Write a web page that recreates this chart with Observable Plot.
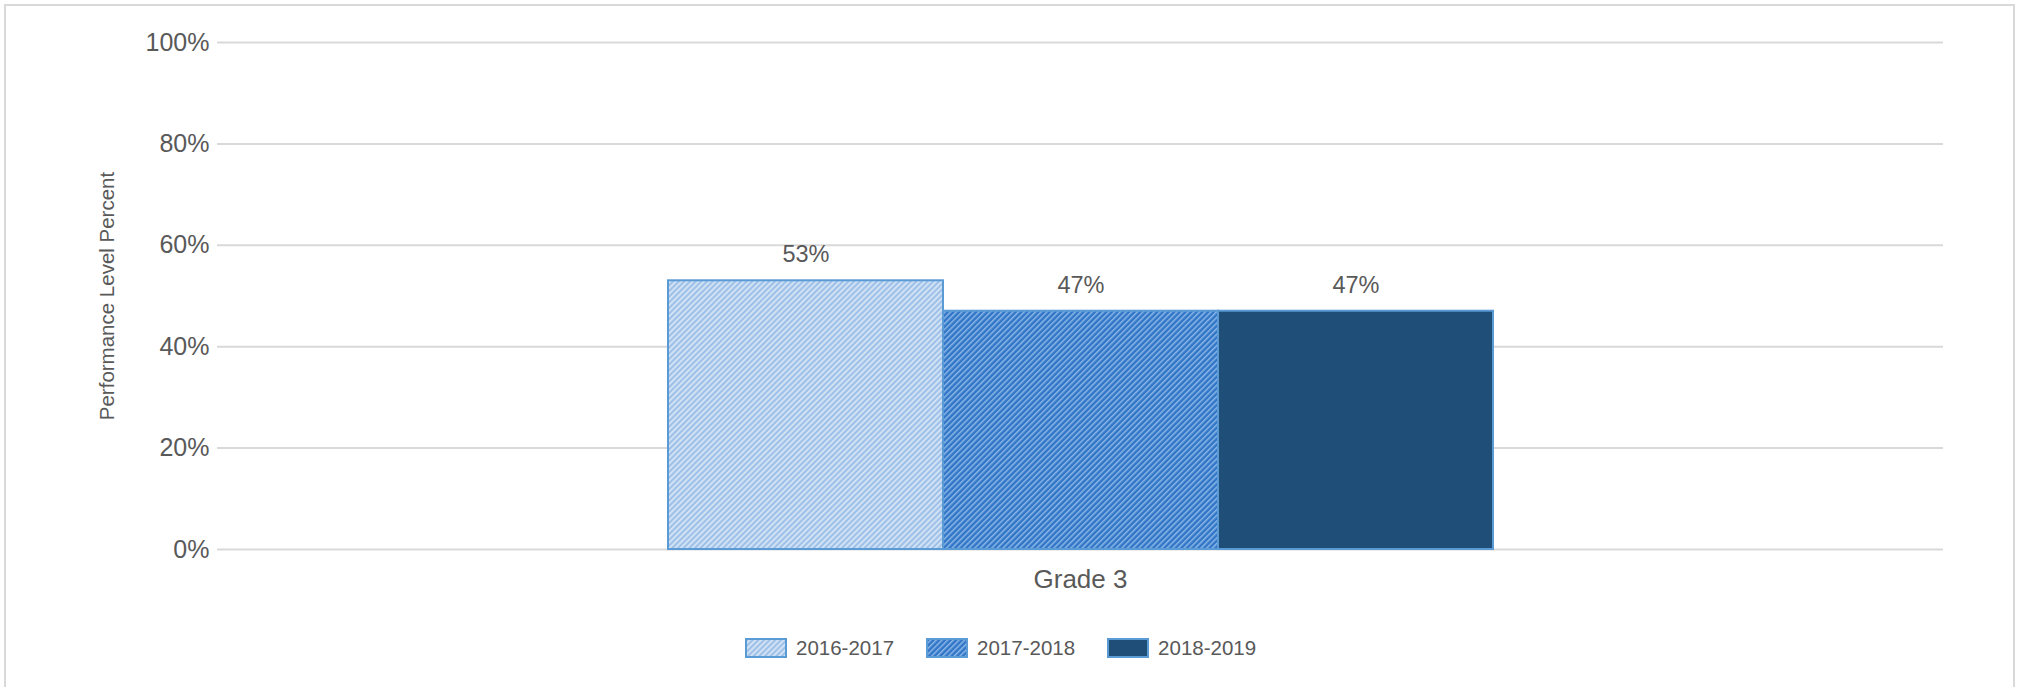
<!DOCTYPE html>
<html>
<head>
<meta charset="utf-8">
<script src="https://cdn.jsdelivr.net/npm/d3@7"></script>
<script src="https://cdn.jsdelivr.net/npm/@observablehq/plot@0.6"></script>
<style>
  html, body { margin: 0; padding: 0; background: #fff; }
  body { width: 2017px; height: 687px; overflow: hidden; position: relative; font-family: "Liberation Sans", Arial, sans-serif; }
  #frame { position: absolute; left: 4px; top: 4px; width: 2007px; height: 720px; border: 2px solid #d9d9d9; border-bottom: none; }
  #chart { position: absolute; left: 0; top: 0; }
  #legend { position: absolute; left: 745px; top: 638px; display: flex; align-items: center; font-size: 20.5px; color: #595959; line-height: 20px; }
  #legend .item { display: flex; align-items: center; margin-right: 32px; }
  #legend svg { display: block; margin-right: 9px; }
  #defs { position: absolute; width: 0; height: 0; }
</style>
</head>
<body>
<svg id="defs" width="0" height="0">
  <defs>
    <pattern id="hatch-light" patternUnits="userSpaceOnUse" width="4" height="4" patternTransform="rotate(45)">
      <rect width="4" height="4" fill="#9fc1e8"></rect>
      <rect x="0" y="0" width="1.7" height="4" fill="#d8e7f7"></rect>
    </pattern>
    <pattern id="hatch-mid" patternUnits="userSpaceOnUse" width="4" height="4" patternTransform="rotate(45)">
      <rect width="4" height="4" fill="#3275c6"></rect>
      <rect x="0" y="0" width="1.5" height="4" fill="#8ab8e8"></rect>
    </pattern>
  </defs>
</svg>
<div id="frame"></div>
<div id="chart"></div>
<div id="legend"></div>
<script>
// ---- data ----
const categories = ["Grade 3"];
const series = ["2016-2017", "2017-2018", "2018-2019"];
const values = [53, 47, 47];
const yTicks = [0, 20, 40, 60, 80, 100];

// ---- styles ----
const seriesFills = ["url(#hatch-light)", "url(#hatch-mid)", "#1f4e79"];
const barStroke = "#5b9bd5";
const textColor = "#595959";

const data = series.map((s, i) => ({category: categories[0], series: s, value: values[i]}));

const chart = Plot.plot({
  width: 2017,
  height: 612,
  marginLeft: 217,
  marginRight: 74,
  marginTop: 42,
  marginBottom: 63,
  style: {fontFamily: "'Liberation Sans', Arial, sans-serif", color: textColor, background: "transparent"},
  fx: {domain: categories, padding: 0, label: null},
  x: {domain: series, paddingInner: 0, paddingOuter: 1.627, axis: null},
  y: {domain: [0, 100], label: null},
  color: {domain: series, range: seriesFills, legend: false},
  marks: [
    Plot.gridY(yTicks, {stroke: "#d9d9d9", strokeOpacity: 1, strokeWidth: 2}),
    Plot.axisY(yTicks, {tickSize: 0, tickPadding: 8, fontSize: 25, tickFormat: d => d + "%", label: null}),
    Plot.axisFx({anchor: "bottom", tickSize: 0, tickPadding: 20, fontSize: 26, label: null}),
    Plot.barY(data, {fx: "category", x: "series", y: "value", fill: "series", stroke: barStroke, strokeWidth: 2, insetLeft: 0, insetRight: 0}),
    Plot.text(data, {fx: "category", x: "series", y: "value", text: d => d.value + "%", dy: -26, fontSize: 23.5, fill: textColor, lineAnchor: "middle"}),
    Plot.text(["Performance Level Percent"], {frameAnchor: "left", rotate: -90, dx: -110, fontSize: 20.5, fill: textColor, lineAnchor: "middle", textAnchor: "middle"})
  ]
});
document.getElementById("chart").appendChild(chart);

// ---- legend ----
const legend = d3.select("#legend");
series.forEach((s, i) => {
  const item = legend.append("div").attr("class", "item");
  const sw = item.append("svg").attr("width", 42).attr("height", 20);
  sw.append("rect").attr("x", 1).attr("y", 1).attr("width", 40).attr("height", 18)
    .attr("fill", seriesFills[i]).attr("stroke", barStroke).attr("stroke-width", 2);
  item.append("span").text(s);
});
</script>
</body>
</html>
